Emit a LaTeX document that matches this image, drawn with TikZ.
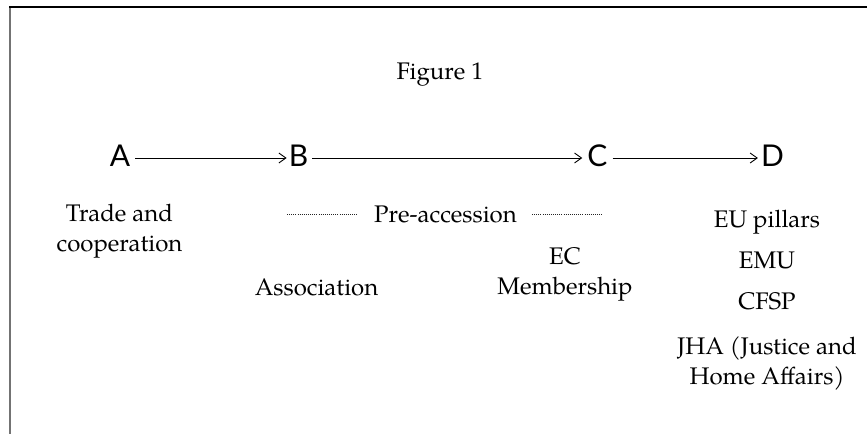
\documentclass[tikz,border=0pt]{standalone}
\usepackage{fontspec}
\setmainfont{TeX Gyre Pagella}
\newfontfamily\letterfont{Lato}
\usetikzlibrary{arrows.meta}
\tikzset{
  lbl/.style={inner sep=0pt, anchor=base, align=center, font=\fontsize{24}{29.5}\selectfont},
  stage/.style={inner sep=0pt, font=\letterfont\fontsize{30}{30}\selectfont},
  arr/.style={line width=0.9pt, -{Straight Barb[length=7pt,width=10pt,line width=0.9pt]}},
  dotline/.style={line width=0.8pt, dash pattern=on 1pt off 1.1pt, black!85},
}
\begin{document}
\begin{tikzpicture}[x=1pt,y=-1pt]
\useasboundingbox (0,0) rectangle (867,434);
\draw[black!55, line width=2pt] (9.5,7) -- (9.5,434);
\draw[black, line width=1.5pt] (9,7) -- (867,7);
\node[lbl] (fig) at (440,79) {Figure 1};
\node[stage] (A) at (120,156) {A};
\node[stage] (B) at (298.5,156) {B};
\node[stage] (C) at (597.5,156) {C};
\node[stage] (D) at (772.5,156) {D};
\draw[arr] ([xshift=5pt]A.east |- 0,158) -- ([xshift=-2pt]B.west |- 0,158);
\draw[arr] ([xshift=4pt]B.east |- 0,158) -- ([xshift=-5pt]C.west |- 0,158);
\draw[arr] ([xshift=5pt]C.east |- 0,158) -- ([xshift=-3pt]D.west |- 0,158);
\node[lbl] (trade) at (119.5,251) {Trade and\\cooperation};
\node[lbl] (pre) at (445.5,222) {Pre-accession};
\coordinate (d1a) at (287,214);
\coordinate (d1b) at (358,214);
\coordinate (d2a) at (532,214);
\coordinate (d2b) at (602,214);
\draw[dotline] (d1a) -- (d1b);
\draw[dotline] (d2a) -- (d2b);
\node[lbl, font=\fontsize{24}{30.5}\selectfont] (ec) at (565,294.5) {EC\\Membership};
\node[lbl] (assoc) at (316.5,295) {Association};
\node[lbl] (eu) at (767,227) {EU pillars};
\node[lbl] (emu) at (767,268) {EMU};
\node[lbl] (cfsp) at (767,309) {CFSP};
\node[lbl, font=\fontsize{24}{30}\selectfont] (jha) at (767,384) {JHA (Justice and\\Home Affairs)};
\end{tikzpicture}
\end{document}
